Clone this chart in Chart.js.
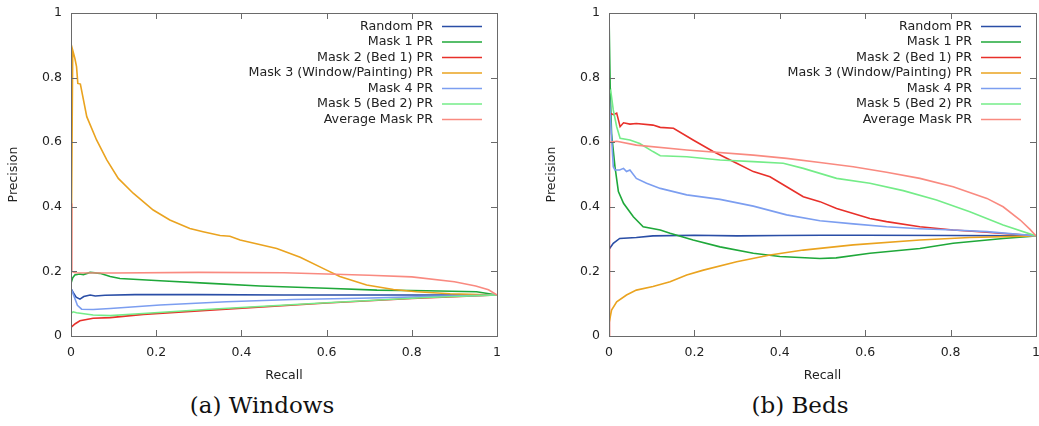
<!DOCTYPE html>
<html>
<head>
<meta charset="utf-8">
<script src="https://cdn.jsdelivr.net/npm/chart.js@4/dist/chart.umd.min.js"></script>
<style>
  body { margin: 0; background: #fff; }
  #page { position: relative; width: 1039px; height: 426px; overflow: hidden; }
  .box { position: absolute; top: 0; height: 390px; }
  .caption {
    position: absolute; top: 392px; width: 300px; text-align: center;
    font-family: "DejaVu Serif", "Liberation Serif", serif; font-size: 23px; color: #111;
  }
</style>
</head>
<body>
<div id="page">
  <div class="box" style="left:0;width:520px"><canvas id="winChart"></canvas></div>
  <div class="box" style="left:538px;width:501px"><canvas id="bedChart"></canvas></div>
  <div class="caption" style="left:112px">(a) Windows</div>
  <div class="caption" style="left:650px">(b) Beds</div>
</div>
<script>
const seriesLabels = [
  "Random PR",
  "Mask 1 PR",
  "Mask 2 (Bed 1) PR",
  "Mask 3 (Window/Painting) PR",
  "Mask 4 PR",
  "Mask 5 (Bed 2) PR",
  "Average Mask PR",
];
const seriesColors = ["#2a4ea6", "#1fa83a", "#e8302a", "#eaa31f", "#7c9ef0", "#74ec88", "#f98a80"];
const tickValues = [0, 0.2, 0.4, 0.6, 0.8, 1];

// (a) Windows — [recall, precision]
const winRandom = [[0,0.147],[0.005,0.135],[0.012,0.12],[0.021,0.114],[0.03,0.122],[0.045,0.127],[0.057,0.124],[0.08,0.126],[0.15,0.128],[0.3,0.128],[0.5,0.127],[0.7,0.127],[0.9,0.127],[1,0.127]];
const winMask1 = [[0,0.163],[0.004,0.18],[0.009,0.189],[0.02,0.192],[0.029,0.19],[0.045,0.197],[0.068,0.194],[0.092,0.184],[0.115,0.178],[0.209,0.171],[0.326,0.163],[0.444,0.155],[0.6,0.148],[0.718,0.142],[0.835,0.14],[0.952,0.137],[1,0.127]];
const winMask2 = [[0,0.027],[0.01,0.038],[0.021,0.047],[0.052,0.055],[0.092,0.057],[0.17,0.067],[0.326,0.08],[0.6,0.102],[0.8,0.116],[1,0.127]];
const winMask3 = [[0,0.15],[0.004,0.885],[0.009,0.86],[0.013,0.834],[0.016,0.782],[0.022,0.78],[0.037,0.679],[0.06,0.607],[0.084,0.545],[0.111,0.488],[0.146,0.442],[0.193,0.39],[0.232,0.359],[0.279,0.333],[0.31,0.323],[0.35,0.311],[0.373,0.309],[0.397,0.297],[0.483,0.271],[0.538,0.244],[0.6,0.204],[0.631,0.184],[0.694,0.158],[0.757,0.144],[0.811,0.137],[0.89,0.131],[1,0.127]];
const winMask4 = [[0,0.147],[0.008,0.12],[0.015,0.095],[0.025,0.083],[0.052,0.082],[0.092,0.085],[0.209,0.096],[0.365,0.106],[0.522,0.113],[0.678,0.117],[0.835,0.122],[1,0.127]];
const winMask5 = [[0,0.07],[0.005,0.075],[0.013,0.072],[0.052,0.065],[0.092,0.063],[0.15,0.068],[0.326,0.083],[0.6,0.103],[0.835,0.119],[1,0.127]];
const winAvg = [[0,0.41],[0.002,0.2],[0.01,0.196],[0.1,0.195],[0.3,0.197],[0.5,0.196],[0.6,0.192],[0.7,0.188],[0.8,0.183],[0.9,0.168],[0.95,0.155],[0.98,0.143],[1,0.127]];

// (b) Beds — [recall, precision]
const bedRandom = [[0.001,0.27],[0.01,0.287],[0.025,0.302],[0.064,0.305],[0.103,0.31],[0.2,0.312],[0.3,0.31],[0.4,0.311],[0.5,0.312],[0.6,0.312],[0.8,0.311],[1,0.31]];
const bedMask1 = [[0,1],[0.003,0.75],[0.006,0.627],[0.014,0.524],[0.022,0.447],[0.034,0.411],[0.057,0.369],[0.08,0.338],[0.12,0.328],[0.143,0.318],[0.197,0.297],[0.26,0.276],[0.338,0.256],[0.4,0.246],[0.494,0.24],[0.532,0.242],[0.611,0.256],[0.728,0.271],[0.806,0.287],[0.923,0.302],[1,0.31]];
const bedMask2 = [[0,0],[0.001,0.69],[0.011,0.685],[0.018,0.69],[0.026,0.648],[0.034,0.66],[0.049,0.656],[0.064,0.658],[0.103,0.653],[0.12,0.646],[0.151,0.643],[0.197,0.607],[0.244,0.571],[0.299,0.535],[0.338,0.509],[0.377,0.493],[0.416,0.462],[0.455,0.431],[0.494,0.416],[0.533,0.395],[0.611,0.364],[0.65,0.354],[0.728,0.338],[0.806,0.328],[0.885,0.321],[1,0.31]];
const bedMask3 = [[0,0.039],[0.006,0.08],[0.018,0.106],[0.041,0.127],[0.064,0.142],[0.103,0.153],[0.143,0.168],[0.182,0.189],[0.221,0.204],[0.299,0.23],[0.377,0.251],[0.455,0.266],[0.572,0.282],[0.728,0.297],[0.845,0.305],[1,0.31]];
const bedMask4 = [[0,0.76],[0.004,0.66],[0.01,0.524],[0.014,0.514],[0.025,0.514],[0.034,0.519],[0.041,0.509],[0.049,0.514],[0.064,0.488],[0.088,0.473],[0.12,0.457],[0.182,0.437],[0.26,0.423],[0.338,0.402],[0.416,0.375],[0.494,0.357],[0.572,0.347],[0.65,0.338],[0.728,0.332],[0.806,0.328],[0.885,0.323],[1,0.31]];
const bedMask5 = [[0,0.75],[0.004,0.76],[0.01,0.7],[0.018,0.648],[0.026,0.612],[0.049,0.607],[0.072,0.596],[0.103,0.571],[0.12,0.558],[0.182,0.555],[0.26,0.545],[0.338,0.54],[0.408,0.535],[0.455,0.519],[0.533,0.488],[0.611,0.473],[0.689,0.45],[0.767,0.421],[0.845,0.385],[0.923,0.344],[1,0.31]];
const bedAvg = [[0,0.6],[0.018,0.603],[0.064,0.591],[0.182,0.576],[0.338,0.56],[0.416,0.55],[0.494,0.537],[0.572,0.524],[0.65,0.507],[0.728,0.488],[0.806,0.462],[0.885,0.426],[0.923,0.4],[0.963,0.359],[0.986,0.33],[1,0.31]];

const sansFont = "'DejaVu Sans', Verdana, sans-serif";
const textColor = "#222";
const borderColor = "#6a6a6a";

// gnuplot-like frame: full border, inward ticks on all sides, key in top right
const framePlugin = {
  id: "frame",
  afterDraw(chart) {
    const { ctx, chartArea: a, scales } = chart;
    ctx.save();
    ctx.strokeStyle = borderColor;
    ctx.lineWidth = 1;
    ctx.beginPath();
    tickValues.forEach((v) => {
      const x = Math.round(scales.x.getPixelForValue(v)) + 0.5;
      const y = Math.round(scales.y.getPixelForValue(v)) + 0.5;
      ctx.moveTo(x, a.bottom); ctx.lineTo(x, a.bottom - 6);
      ctx.moveTo(x, a.top); ctx.lineTo(x, a.top + 6);
      ctx.moveTo(a.left, y); ctx.lineTo(a.left + 6, y);
      ctx.moveTo(a.right, y); ctx.lineTo(a.right - 6, y);
    });
    ctx.stroke();
    ctx.strokeRect(Math.round(a.left) + 0.5, Math.round(a.top) + 0.5,
      Math.round(a.right - a.left), Math.round(a.bottom - a.top));

    ctx.font = "12.7px " + sansFont;
    ctx.textAlign = "right";
    ctx.textBaseline = "middle";
    chart.data.datasets.forEach((ds, i) => {
      const y = a.top + 13.5 + i * 15.5;
      ctx.fillStyle = textColor;
      ctx.fillText(ds.label, a.right - 64, y);
      ctx.strokeStyle = ds.borderColor;
      ctx.lineWidth = 1.6;
      ctx.beginPath();
      ctx.moveTo(a.right - 55, y);
      ctx.lineTo(a.right - 15, y);
      ctx.stroke();
    });
    ctx.restore();
  },
};

function makeChart(id, seriesList, padRight) {
  new Chart(document.getElementById(id), {
    type: "line",
    data: {
      datasets: seriesList.map((pts, i) => ({
        label: seriesLabels[i],
        data: pts.map((p) => ({ x: p[0], y: p[1] })),
        borderColor: seriesColors[i],
        backgroundColor: seriesColors[i],
        borderWidth: 1.6,
        pointRadius: 0,
        tension: 0,
        fill: false,
        order: seriesList.length - i,
      })),
    },
    options: {
      responsive: true,
      maintainAspectRatio: false,
      animation: false,
      events: [],
      layout: { padding: { top: 13, right: padRight, bottom: 0, left: 0 } },
      plugins: { legend: { display: false }, tooltip: { enabled: false } },
      scales: {
        x: {
          type: "linear",
          min: 0,
          max: 1,
          afterBuildTicks: (s) => { s.ticks = tickValues.map((v) => ({ value: v })); },
          afterFit: (s) => { s.height = 54; s.paddingLeft = 0; s.paddingRight = 0; },
          grid: { display: false, drawTicks: false },
          border: { display: false },
          ticks: {
            padding: 9,
            color: textColor,
            font: { family: sansFont, size: 12.5 },
            maxRotation: 0,
            callback: (v) => String(+v.toFixed(1)),
          },
          title: {
            display: true,
            text: "Recall",
            color: textColor,
            font: { family: sansFont, size: 12.5 },
            padding: { top: 0, bottom: 7 },
          },
        },
        y: {
          type: "linear",
          min: 0,
          max: 1,
          afterBuildTicks: (s) => { s.ticks = tickValues.map((v) => ({ value: v })); },
          afterFit: (s) => { s.width = 71; s.paddingTop = 0; s.paddingBottom = 0; },
          grid: { display: false, drawTicks: false },
          border: { display: false },
          ticks: {
            padding: 9,
            color: textColor,
            font: { family: sansFont, size: 12.5 },
            callback: (v) => String(+v.toFixed(1)),
          },
          title: {
            display: true,
            text: "Precision",
            color: textColor,
            font: { family: sansFont, size: 12.5 },
            padding: { top: 6, bottom: 0 },
          },
        },
      },
    },
    plugins: [framePlugin],
  });
}

makeChart("winChart", [winRandom, winMask1, winMask2, winMask3, winMask4, winMask5, winAvg], 23);
makeChart("bedChart", [bedRandom, bedMask1, bedMask2, bedMask3, bedMask4, bedMask5, bedAvg], 3);
</script>
</body>
</html>
